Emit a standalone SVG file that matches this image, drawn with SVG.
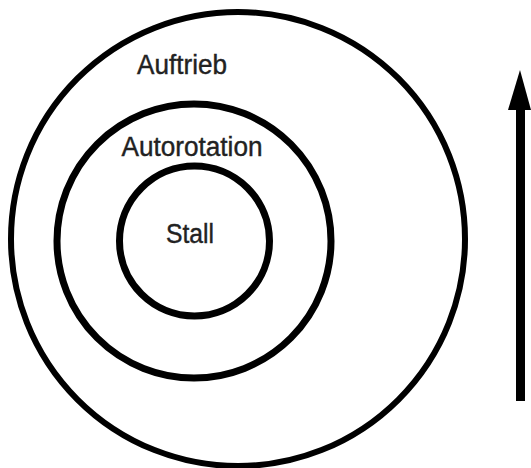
<svg xmlns="http://www.w3.org/2000/svg" width="531" height="468" viewBox="0 0 531 468">
<style>
.ring{fill:none;stroke:#000}
.lbl{font-family:"Liberation Sans","DejaVu Sans",sans-serif;font-size:27px;fill:#222;text-anchor:middle;stroke:#222;stroke-width:0.4}
</style>
<rect width="531" height="468" fill="#fff"/>
<g id="outer"><circle class="ring" cx="238" cy="239" r="227" stroke-width="6"/><text class="lbl" x="182" y="74" textLength="90" lengthAdjust="spacingAndGlyphs">Auftrieb</text></g>
<g id="middle"><circle class="ring" cx="194" cy="241" r="137" stroke-width="7"/><text class="lbl" x="192" y="156" textLength="141" lengthAdjust="spacingAndGlyphs">Autorotation</text></g>
<g id="inner"><circle class="ring" cx="194.5" cy="241" r="75" stroke-width="7"/><text class="lbl" x="190" y="243" textLength="48" lengthAdjust="spacingAndGlyphs">Stall</text></g>
<g id="connectors">
<rect x="516" y="105" width="9" height="296" fill="#000"/>
<polygon points="520,70 531,110 508,110" fill="#000"/>
</g>
</svg>
